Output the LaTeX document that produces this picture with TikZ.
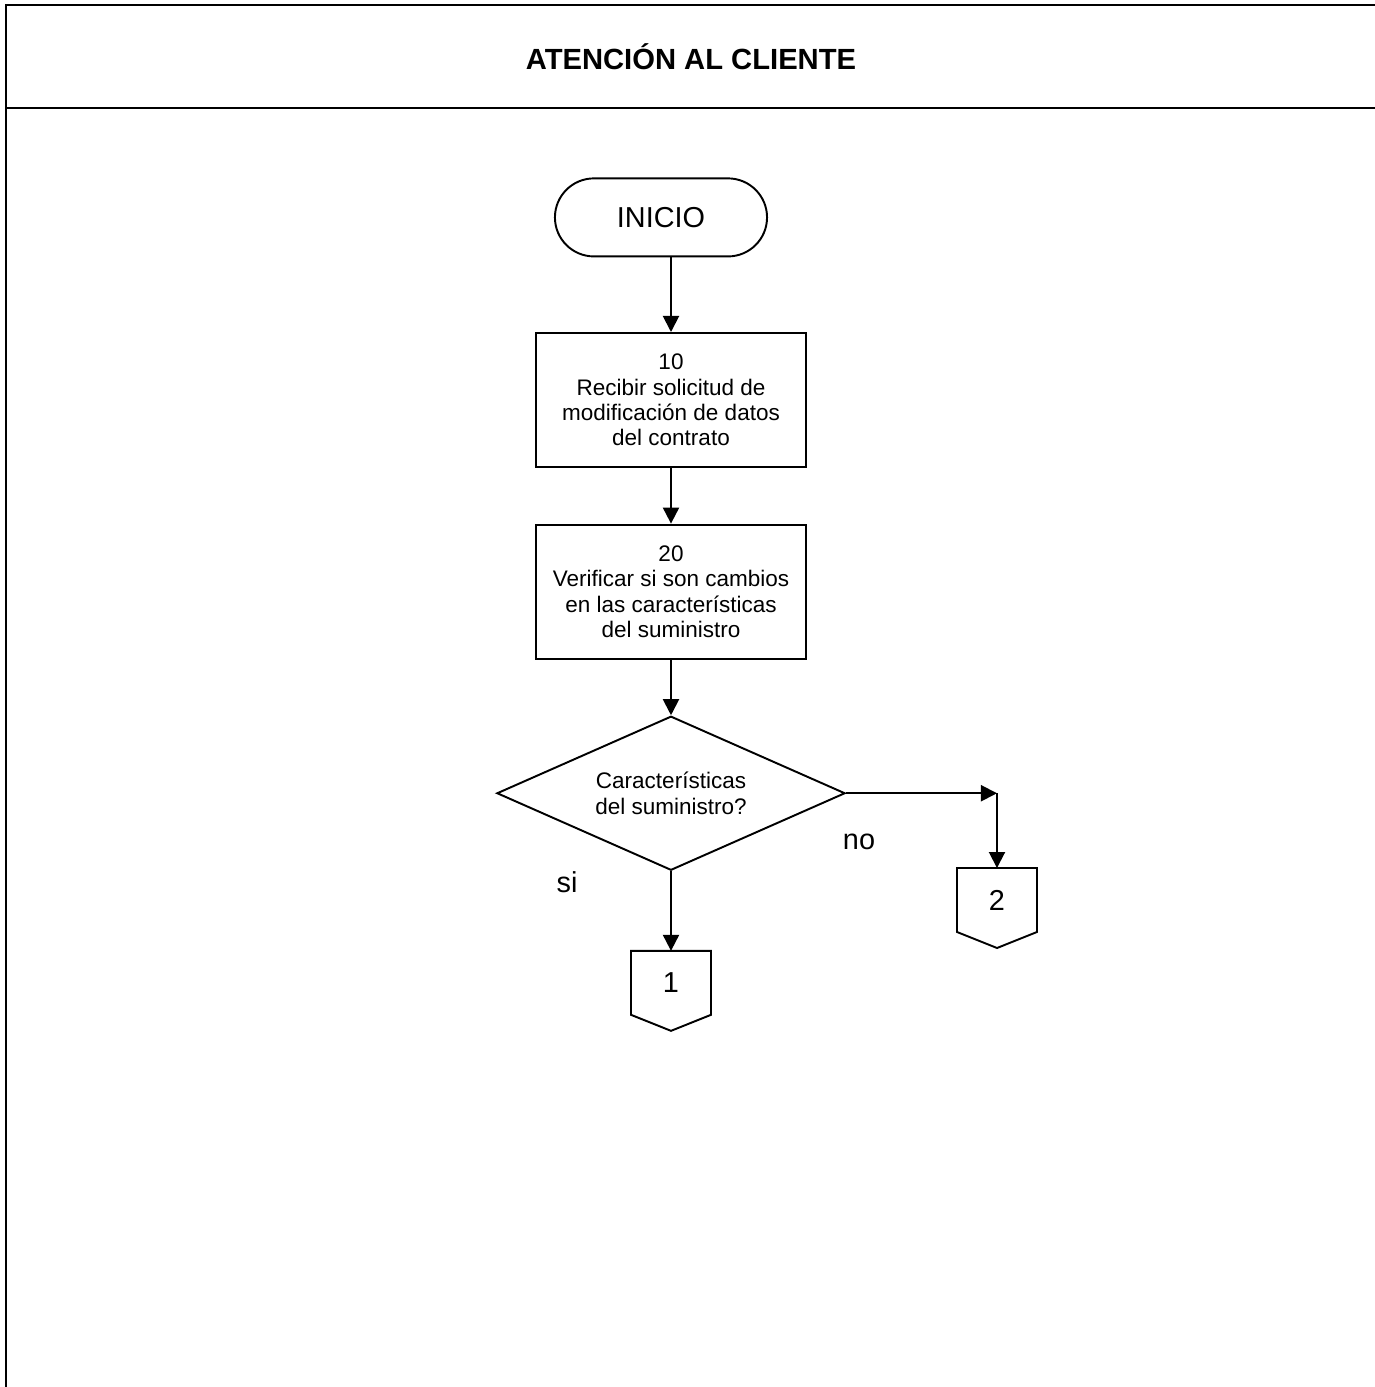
\documentclass[tikz,border=0pt]{standalone}
\usepackage{fontspec}
\setmainfont{Liberation Sans}
\usetikzlibrary{positioning,shapes.geometric,arrows.meta}

\begin{document}
\begin{tikzpicture}[%
	->,
	>={Triangle[length=0.16cm,width=0.16cm]},
	x=0.01cm, y=-0.01cm,
	line width=0.55pt, align=center,
	every node/.style={font=\fontsize{6.4}{7.2}\selectfont},
	title/.style={font=\fontsize{8.3}{10}\selectfont\bfseries},
	bigtext/.style={font=\fontsize{8.2}{9.8}\selectfont},
	term/.style={draw, rectangle, rounded corners=0.39cm, minimum width=2.12cm, minimum height=0.78cm, font=\fontsize{8.2}{9.8}\selectfont},
	proc/.style={draw, rectangle, minimum width=2.69cm, minimum height=1.34cm, inner sep=1pt},
	decision/.style={draw, diamond, aspect=2.26, minimum width=3.48cm, minimum height=1.54cm, inner sep=0pt},
	offpage/.style={minimum width=0.78cm, minimum height=0.62cm, font=\fontsize{8.2}{9.8}\selectfont}
	]
	\useasboundingbox (0,0) rectangle (1375,1387);
	
	% marco
	\draw[-, line width=0.75pt] (1375,5) -- (6,5) -- (6,1387);
	\draw[-, line width=0.75pt] (6,108) -- (1375,108);
	\node[title] (head) at (691,57) {ATENCIÓN AL CLIENTE};
	
	\node[proc] (b10) at (671,400) {10\\Recibir solicitud de\\modificación de datos\\del contrato};
	
	\node[term] (ini) [above of=b10, node distance=1.825cm, xshift=-0.1cm] {INICIO};
	
	\node[proc] (b20) [below of=b10, node distance=1.915cm] {20\\Verificar si son cambios\\en las características\\del suministro};
	
	\node[decision] (dec) [below of=b20, node distance=2.015cm] {Características\\del suministro?};
	
	\node[offpage] (c1) [below of=dec, node distance=1.895cm] {1};
	
	\node[offpage] (c2) at (997,900) {2};
	
	\node[bigtext] (si) at (567,882) {si};
	\node[bigtext] (no) at (859,842) {no};
	
	\coordinate (turn) at (dec.east -| c2.north);
	
	\draw (ini.south -| b10.north) -- (b10.north);
	\draw (b10) -- (b20);
	\draw (b20) -- (dec);
	\draw (dec) -- (c1);
	\draw (dec.east) -- (turn);
	\draw (turn) -- (c2);
	
	\foreach \c in {c1,c2}
	\draw[-] (\c.north west) -- (\c.south west) -- ([yshift=-0.16cm]\c.south) -- (\c.south east) -- (\c.north east) -- cycle;
\end{tikzpicture}
\end{document}
